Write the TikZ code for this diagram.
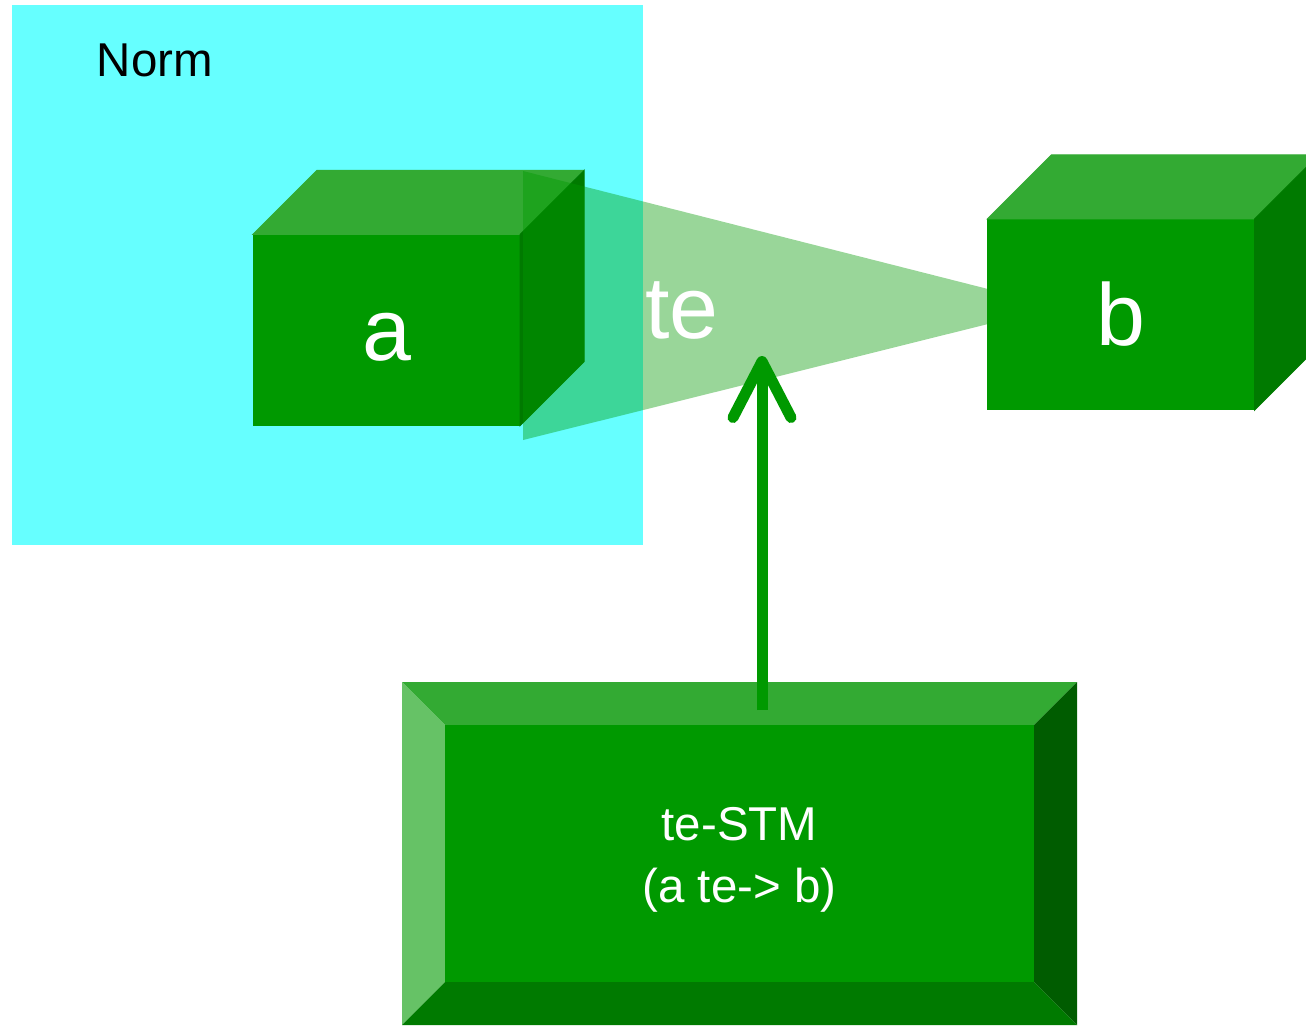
\documentclass[tikz,border=0pt]{standalone}
\usepackage{fontspec}
\setmainfont{Liberation Sans}
\usetikzlibrary{arrows.meta}
\definecolor{normcyan}{HTML}{66FFFF}
\definecolor{boxgreen}{HTML}{009900}
\definecolor{topgreen}{HTML}{33AA33}
\definecolor{sidegreen}{HTML}{007A00}
\definecolor{lightgreen}{HTML}{66C266}
\definecolor{darkgreen}{HTML}{005C00}
\tikzset{
  cubefront/.style={fill=boxgreen,draw=boxgreen,line width=.3pt,inner sep=0pt,
    minimum width=2.66cm,minimum height=1.9cm},
  cubelabel/.style={text=white,font=\fontsize{25}{30}\selectfont},
  cubetop/.style={fill=topgreen,draw=topgreen,line width=.3pt},
  cubeside/.style={fill=sidegreen,draw=sidegreen,line width=.3pt},
}
\begin{document}
\begin{tikzpicture}[x=0.01cm,y=-0.01cm,>={Straight Barb[length=5.6mm,width=5.8mm,round]}]
\useasboundingbox (0,0) rectangle (1306,1026);
\clip (0,0) rectangle (1306,1026);
% norm
\fill[normcyan] (12,5) rectangle (643,545);
\node[font=\fontsize{13.5}{15}\selectfont] (norm) at (155,60) {Norm};
% cube a
\node[cubefront,label={[cubelabel,yshift=-0.07cm]center:a}] (a) at (386.5,330) {};
\fill[cubetop] (a.north west)--++(64,-64)--++(266,0)--(a.north east)--cycle;
\fill[cubeside] (a.north east)--++(64,-64)--++(0,191)--(a.south east)--cycle;
% te
\fill[boxgreen,opacity=.4] (523,171)--(988,289)--(988,324)--(523,440)--cycle;
\node[cubelabel] (te) at (682,310) {te};
% cube b
\node[cubefront,label={[cubelabel]center:b}] (b) at (1121,314.5) {};
\fill[cubetop] (b.north west)--++(64,-64)--++(266,0)--(b.north east)--cycle;
\fill[cubeside] (b.north east)--++(64,-64)--++(0,191)--(b.south east)--cycle;
% stm
\fill[topgreen] (402,682)--(1077,682)--(1034,725)--(445,725)--cycle;
\fill[lightgreen] (402,682)--(445,725)--(445,982)--(402,1025)--cycle;
\fill[darkgreen] (1077,682)--(1077,1025)--(1034,982)--(1034,725)--cycle;
\fill[sidegreen] (402,1025)--(445,982)--(1034,982)--(1077,1025)--cycle;
\node[fill=boxgreen,minimum width=5.89cm,minimum height=2.57cm,
  label={[yshift=-0.06cm,text=white,align=center,font=\fontsize{13.5}{17.6}\selectfont]center:te-STM\\(a te-> b)}] (stm) at (739.5,853.5) {};
\coordinate (tip) at (762,356);
\draw[->,boxgreen,line width=0.11cm] ([yshift=1.4mm]tip |- stm.north)--(tip);
\end{tikzpicture}
\end{document}
